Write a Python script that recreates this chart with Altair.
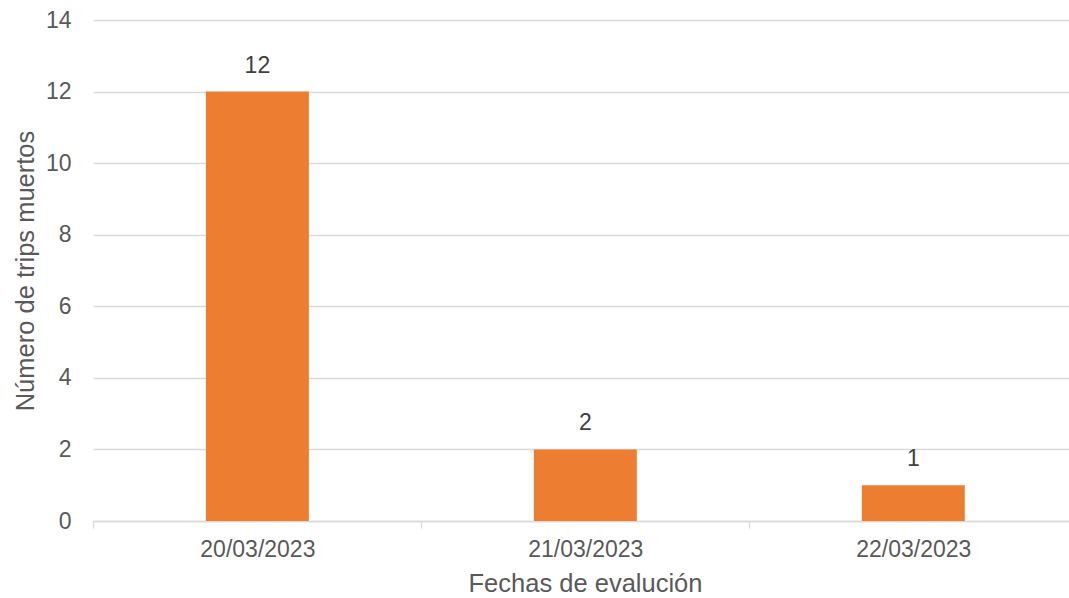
import altair as alt
import pandas as pd

fechas = ["20/03/2023", "21/03/2023", "22/03/2023"]
muertos = [12, 2, 1]
y_ticks = [0, 2, 4, 6, 8, 10, 12, 14]

df = pd.DataFrame({"fecha": fechas, "muertos": muertos})

FONT = "Liberation Sans"
LABEL = "#595959"
GRID = "#d9d9d9"

x_enc = alt.X(
    "fecha:N",
    sort=None,
    scale=alt.Scale(paddingInner=0.686, paddingOuter=0.331, align=0.52),
    axis=alt.Axis(
        title="Fechas de evalución",
        labelAngle=0,
        labelFont=FONT,
        labelFontSize=23,
        labelColor=LABEL,
        labelPadding=10,
        ticks=True,
        tickSize=7,
        tickColor=GRID,
        tickWidth=1.3,
        bandPosition=0,
        tickOffset=-112.5,
        labelOffset=112.5,
        tickExtra=False,
        domainColor=GRID,
        domainWidth=1.3,
        grid=False,
        titleFont=FONT,
        titleFontSize=25.5,
        titleFontWeight="normal",
        titleColor=LABEL,
        titleX=492,
        titleY=50,
        titleBaseline="top",
    ),
)

y_enc = alt.Y(
    "muertos:Q",
    scale=alt.Scale(domain=[0, 14], nice=False),
    axis=alt.Axis(
        title="Número de trips muertos",
        values=y_ticks,
        labelFont=FONT,
        labelFontSize=23,
        labelColor=LABEL,
        labelPadding=22,
        ticks=False,
        tickSize=0,
        domain=False,
        grid=True,
        gridColor=GRID,
        gridWidth=1.3,
        titleFont=FONT,
        titleFontSize=25.5,
        titleFontWeight="normal",
        titleColor=LABEL,
        titleX=-60,
        titleBaseline="alphabetic",
    ),
)

bars = alt.Chart(df).mark_bar(color="#ED7D31").encode(x=x_enc, y=y_enc)

labels = alt.Chart(df).mark_text(
    dy=-19,
    baseline="alphabetic",
    fontSize=23,
    font=FONT,
    color="#404040",
).encode(
    x=alt.X("fecha:N", sort=None),
    y=alt.Y("muertos:Q"),
    text="muertos:Q",
)

chart = (
    alt.layer(bars, labels)
    .properties(
        width=976,
        height=501,
        background="white",
        autosize=alt.AutoSizeParams(type="none"),
        padding={"left": 93, "top": 20, "right": 0, "bottom": 77},
    )
    .configure_view(stroke=None)
)

chart.save("out.html", embed_options={"renderer": "svg", "actions": False})
